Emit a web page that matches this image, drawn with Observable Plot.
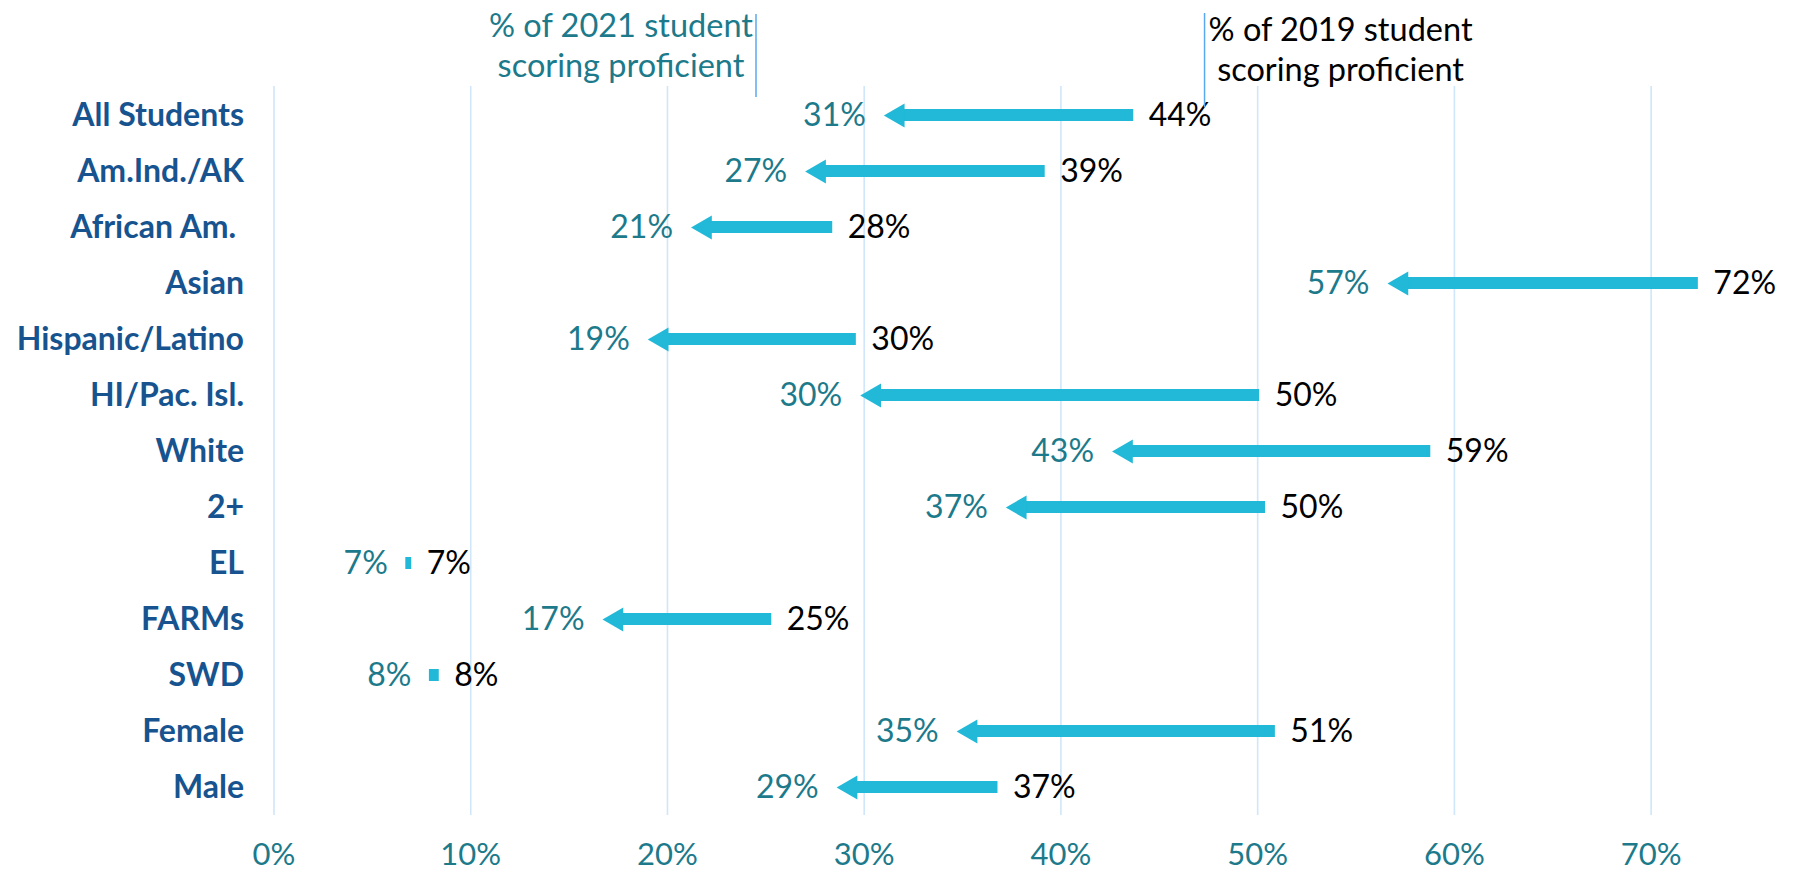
<!DOCTYPE html>
<html>
<head>
<meta charset="utf-8">
<script src="https://cdn.jsdelivr.net/npm/d3@7"></script>
<script src="https://cdn.jsdelivr.net/npm/@observablehq/plot@0.6"></script>
<style>
  html, body { margin: 0; padding: 0; background: #ffffff; }
  #chart svg { display: block; }
</style>
</head>
<body>
<div id="chart"></div>
<script>
// ---- data ----
const categories = ["All Students", "Am.Ind./AK", "African Am.\u00A0", "Asian", "Hispanic/Latino",
  "HI/Pac. Isl.", "White", "2+", "EL", "FARMs", "SWD", "Female", "Male"];
const pct2019 = [43.7, 39.2, 28.4, 72.4, 29.6, 50.1, 58.8, 50.4, 7.0, 25.3, 8.4, 50.9, 36.8];
const pct2021 = [31.0, 27.0, 21.2, 56.6, 19.0, 29.8, 42.6, 37.2, 6.7, 16.7, 7.9, 34.7, 28.6];
const xTicks = [0, 10, 20, 30, 40, 50, 60, 70];
const annotationText = ["% of 2021 student\nscoring proficient", "% of 2019 student\nscoring proficient"];
const annotationAt = [24.5, 47.3];

const rows = categories.map((c, i) => ({category: c, y2019: pct2019[i], y2021: pct2021[i]}));
const bigRows = rows.filter(d => d.y2019 - d.y2021 > 1.5);
const smallRows = rows.filter(d => d.y2019 - d.y2021 <= 1.5);
const notes = annotationText.map((t, i) => ({text: t, x: annotationAt[i]}));

const cyan = "#21B9D7";
const teal = "#1C7A8B";
const navy = "#17548F";
const font = "Lato, 'Open Sans', sans-serif";

const chart = Plot.plot({
  width: 1793,
  height: 879,
  marginLeft: 273.5,
  marginRight: 44,
  marginTop: 86,
  marginBottom: 64,
  style: {fontFamily: font, fontSize: "32px", background: "#ffffff", overflow: "visible"},
  x: {domain: [0, 75], ticks: xTicks, tickFormat: d => d + "%"},
  y: {domain: categories, padding: 0},
  marks: [
    Plot.gridX(xTicks, {stroke: "#D0E6FA", strokeOpacity: 1, strokeWidth: 1.6}),
    Plot.axisX({ticks: xTicks, tickFormat: d => d + "%", tickSize: 0, tickPadding: 27,
      fill: teal, fontSize: 31, fontFamily: font, label: null}),
    Plot.axisY({tickSize: 0, tickPadding: 30, fill: navy, fontSize: 32, fontWeight: "bold",
      fontFamily: font, label: null}),
    // arrow shafts
    Plot.barX(bigRows, {y: "category", x1: "y2021", x2: "y2019", fill: cyan,
      insetTop: 22, insetBottom: 22, insetLeft: 19}),
    Plot.barX(smallRows, {y: "category", x1: "y2021", x2: "y2019", fill: cyan,
      insetTop: 22, insetBottom: 22}),
    // arrow heads
    Plot.dot(bigRows, {y: "category", x: "y2021", symbol: "triangle", rotate: -90, r: 8.9,
      dx: 13.8, fill: cyan, stroke: null}),
    // value labels
    Plot.text(rows, {y: "category", x: "y2021", text: d => Math.round(d.y2021) + "%",
      textAnchor: "end", dx: -18, fill: teal, fontSize: 32, fontFamily: font}),
    Plot.text(rows, {y: "category", x: "y2019", text: d => Math.round(d.y2019) + "%",
      textAnchor: "start", dx: 15, fill: "#000000", fontSize: 32, fontFamily: font}),
    // annotations
    Plot.ruleX([notes[0]], {x: "x", stroke: "#5AA9EE", strokeWidth: 1.5, insetTop: -72, insetBottom: 718}),
    Plot.ruleX([notes[1]], {x: "x", stroke: "#5AA9EE", strokeWidth: 1.5, insetTop: -73, insetBottom: 708}),
    Plot.text([notes[0]], {x: "x", text: "text", frameAnchor: "top", lineAnchor: "middle",
      dx: -135, dy: -42, lineHeight: 1.23, fill: teal, fontSize: 32.5, fontFamily: font}),
    Plot.text([notes[1]], {x: "x", text: "text", frameAnchor: "top", lineAnchor: "middle",
      dx: 136, dy: -38.5, lineHeight: 1.22, fill: "#000000", fontSize: 32.5, fontFamily: font})
  ]
});
document.getElementById("chart").appendChild(chart);
</script>
</body>
</html>
